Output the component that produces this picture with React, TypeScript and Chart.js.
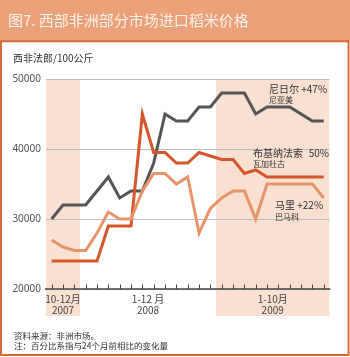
import React, { useEffect, useRef } from "react";
import { Chart, registerables } from "chart.js";

Chart.register(...registerables);

const months = [
  "2007-10", "2007-11", "2007-12",
  "2008-01", "2008-02", "2008-03", "2008-04", "2008-05", "2008-06",
  "2008-07", "2008-08", "2008-09", "2008-10", "2008-11", "2008-12",
  "2009-01", "2009-02", "2009-03", "2009-04", "2009-05", "2009-06",
  "2009-07", "2009-08", "2009-09", "2009-10",
];

const niger = [30000, 32000, 32000, 32000, 34000, 36000, 33000, 34000, 34000, 38000, 45000, 44000, 44000, 46000, 46000, 48000, 48000, 48000, 45000, 46000, 46000, 46000, 45000, 44000, 44000];
const burkina = [24000, 24000, 24000, 24000, 24000, 29000, 29000, 29000, 45000, 39500, 39500, 38000, 38000, 39500, 39000, 38500, 38500, 36500, 37000, 36000, 36000, 36000, 36000, 36000, 36000];
const mali = [27000, 26000, 25500, 25500, 28000, 31000, 30000, 30000, 34000, 36500, 36500, 35000, 36000, 28000, 31500, 33000, 34000, 34000, 30000, 35000, 35000, 35000, 35000, 35000, 33000];

const yTicks = [20000, 30000, 40000, 50000];

const groupLine1 = ["10-12月", "1-12 月", "1-10月"];
const groupLine2 = ["2007", "2008", "2009"];
const groupStart = [0, 3, 15];
const groupEnd = [2, 14, 24];
const groupShaded = [true, false, true];

const seriesNames = ["尼日尔 +47%", "布基纳法索", "马里 +22%"];
const seriesCities = ["尼亚美", "瓦加杜古", "巴马科"];

const title = "图7. 西部非洲部分市场进口稻米价格";
const yTitle = "西非法郎/100公斤";
const footer1 = "资料来源：非洲市场。";
const footer2 = "注：百分比系指与24个月前相比的变化量";

const FONT = '"Noto Sans CJK SC", "Noto Sans", sans-serif';
const NIGER_C = "#555555";
const BURKINA_C = "#D4562A";
const MALI_C = "#E8946A";
const SHADE = "#F9E0D0";

const decorPlugin = {
  id: "decor",
  beforeDraw(chart: any) {
    const ctx = chart.ctx;
    const x = chart.scales.x;
    const area = chart.chartArea;
    const step = x.getPixelForValue(1) - x.getPixelForValue(0);
    ctx.save();
    // banner
    ctx.fillStyle = "#EBA27B";
    ctx.fillRect(0, 0, 350, 41);
    // border
    ctx.strokeStyle = "#D9683A";
    ctx.lineWidth = 2;
    ctx.strokeRect(1, 41.3, 347.5, 313.7);
    // shading
    ctx.fillStyle = SHADE;
    for (let g = 0; g < groupStart.length; g++) {
      if (!groupShaded[g]) continue;
      const l = x.getPixelForValue(groupStart[g]) - step / 2;
      const r = x.getPixelForValue(groupEnd[g]) + step / 2;
      ctx.fillRect(l, area.top, r - l, 316 - area.top);
    }
    // title
    ctx.fillStyle = "#FDF1E8";
    ctx.font = `15px ${FONT}`;
    ctx.textBaseline = "middle";
    ctx.textAlign = "left";
    ctx.fillText(title, 8, 20);
    ctx.restore();
  },
  beforeDatasetsDraw(chart: any) {
    const ctx = chart.ctx;
    const x = chart.scales.x;
    const y = chart.scales.y;
    const area = chart.chartArea;
    const y0 = y.getPixelForValue(yTicks[0]);
    ctx.save();
    ctx.strokeStyle = "#444";
    ctx.lineWidth = 1.5;
    ctx.beginPath();
    ctx.moveTo(area.left - 1, y0);
    ctx.lineTo(area.right + 1, y0);
    ctx.stroke();
    ctx.lineWidth = 1;
    for (let i = 0; i < months.length; i++) {
      const px = Math.round(x.getPixelForValue(i)) + 0.5;
      ctx.beginPath();
      ctx.moveTo(px, y0);
      ctx.lineTo(px, y0 - 4.5);
      ctx.stroke();
    }
    ctx.restore();
  },
  afterDraw(chart: any) {
    const ctx = chart.ctx;
    const x = chart.scales.x;
    ctx.save();
    ctx.textBaseline = "middle";
    // y title
    ctx.fillStyle = "#333";
    ctx.font = `10px ${FONT}`;
    ctx.textAlign = "left";
    ctx.fillText(yTitle, 13, 58);
    // group labels
    ctx.fillStyle = "#444";
    ctx.textAlign = "center";
    for (let g = 0; g < groupStart.length; g++) {
      const c = (x.getPixelForValue(groupStart[g]) + x.getPixelForValue(groupEnd[g])) / 2;
      ctx.fillText(groupLine1[g], c, 299);
      ctx.fillText(groupLine2[g], c, 310);
    }
    // series labels
    ctx.textAlign = "left";
    ctx.fillStyle = "#333";
    ctx.font = `10px ${FONT}`;
    ctx.fillText(seriesNames[0], 269, 89.5);
    ctx.fillText(seriesNames[1], 253, 153);
    ctx.textAlign = "right";
    ctx.fillText("50%", 329, 153);
    ctx.textAlign = "left";
    ctx.fillText(seriesNames[2], 275, 205.5);
    ctx.font = `8px ${FONT}`;
    ctx.fillText(seriesCities[0], 269, 100);
    ctx.fillText(seriesCities[1], 253, 164);
    ctx.fillText(seriesCities[2], 275, 216.5);
    // footer
    ctx.fillStyle = "#333";
    ctx.font = `8.5px ${FONT}`;
    ctx.fillText(footer1, 14, 336);
    ctx.fillText(footer2, 14, 346);
    ctx.restore();
  },
};

export default function App() {
  const ref = useRef<HTMLCanvasElement>(null);
  useEffect(() => {
    if (!ref.current) return;
    const mk = (data: number[], color: string) => ({
      data,
      borderColor: color,
      backgroundColor: color,
      borderWidth: 3,
      pointRadius: 0,
      tension: 0,
      fill: false,
      borderJoinStyle: "miter" as const,
    });
    const chart = new Chart(ref.current, {
      type: "line",
      data: {
        labels: months,
        datasets: [mk(mali, MALI_C), mk(burkina, BURKINA_C), mk(niger, NIGER_C)],
      },
      options: {
        animation: false,
        responsive: false,
        devicePixelRatio: 1,
        layout: { padding: { left: 6, right: 20.6, top: 79, bottom: 68 } },
        plugins: { legend: { display: false }, tooltip: { enabled: false } },
        scales: {
          x: { type: "category", offset: true, display: false },
          y: {
            min: 20000,
            max: 50000,
            afterBuildTicks: (s: any) => {
              s.ticks = yTicks.map((v) => ({ value: v }));
            },
            afterFit: (s: any) => {
              s.width = 40;
            },
            border: { display: false },
            grid: { color: "#BDBDBD", lineWidth: 1, drawTicks: false },
            ticks: {
              padding: 5,
              color: "#555",
              font: { size: 10, family: '"Noto Sans", sans-serif' },
              callback: (v: any) => String(v),
            },
          },
        },
      },
      plugins: [decorPlugin],
    });
    return () => chart.destroy();
  }, []);
  return (
    <div style={{ position: "fixed", left: 0, top: 0, width: 350, height: 357, background: "#fff" }}>
      <canvas ref={ref} width={350} height={357} style={{ display: "block" }} />
    </div>
  );
}
